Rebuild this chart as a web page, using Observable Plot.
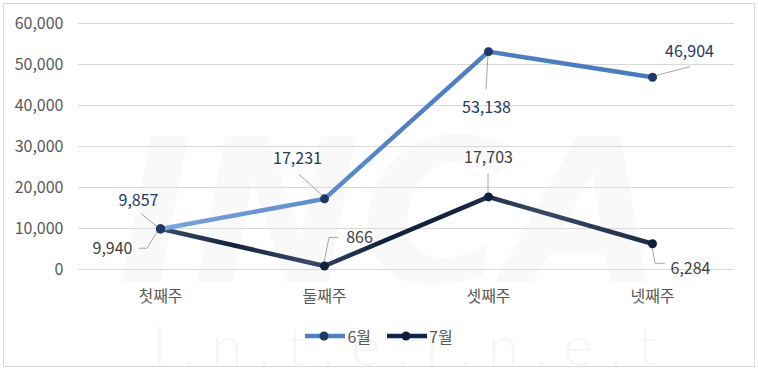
<!DOCTYPE html>
<html>
<head>
<meta charset="utf-8">
<script src="https://cdn.jsdelivr.net/npm/d3@7"></script>
<script src="https://cdn.jsdelivr.net/npm/@observablehq/plot@0.6"></script>
<style>
  body { margin: 0; background: #fff; font-family: "Noto Sans CJK KR", "Noto Sans", sans-serif; }
  #wrap { position: relative; width: 758px; height: 369px; overflow: hidden; background: #fff; }
  #frame { position: absolute; left: 3px; top: 3px; width: 752px; height: 364px; border: 1px solid #d9d9d9; box-sizing: border-box; }
  #wm { position: absolute; left: 0; top: 0; }
  #chart { position: absolute; left: 0; top: 0; }
  #legend { position: absolute; left: 0; top: 326px; width: 758px; height: 20px; display: flex; justify-content: center; align-items: center; gap: 16px; font-size: 16px; color: #595959; }
  .item { display: flex; align-items: center; }
  .item span { margin-left: 2px; line-height: 20px; }
</style>
</head>
<body>
<div id="wrap">
  <svg id="wm" width="758" height="369">
    <text x="118" y="282" font-family="DejaVu Sans" font-weight="bold" font-style="italic" font-size="200" fill="#f9f9f9" textLength="545" lengthAdjust="spacingAndGlyphs">INCA</text>
    <text x="152" y="366" font-family="Lato, DejaVu Sans" font-weight="300" font-size="56" fill="#f6f6f6" textLength="505" lengthAdjust="spacing">I.n.t.e.r.n.e.t</text>
  </svg>
  <div id="frame"></div>
  <div id="chart"></div>
  <div id="legend"></div>
</div>
<script>
// ---- data ----
const weeks = ["첫째주", "둘째주", "셋째주", "넷째주"];
const seriesNames = ["6월", "7월"];
const june = [9857, 17231, 53138, 46904];
const july = [9940, 866, 17703, 6284];
const yTicks = [0, 10000, 20000, 30000, 40000, 50000, 60000];

// ---- styling / layout (not data) ----
const lineColor = {"6월": "url(#g6)", "7월": "url(#g7)"};
const swatchColor = {"6월": "#4f80c2", "7월": "#14254a"};
const dotColor = {"6월": "#1f3864", "7월": "#0f1f3c"};
const labelColor = {"6월": "#1f3864", "7월": "#404040"};
// label offsets (px) from each point, and leader-line polyline offsets
const labelLayout = {
  "6월": [
    {dx: -22, dy: -28, leader: [[-3, -2], [-19, -15]]},
    {dx: -27, dy: -40, leader: [[-2, -3], [-25, -24]]},
    {dx: -2, dy: 56, leader: [[0, 3], [-2, 38]]},
    {dx: 37, dy: -25, leader: [[3, -1], [38, -10]]}
  ],
  "7월": [
    {dx: -48, dy: 20, leader: [[-2, 2], [-13, 20], [-21, 20]]},
    {dx: 35, dy: -28, leader: [[0, -3], [5, -28], [14, -28]]},
    {dx: 0, dy: -39, leader: [[0, -4], [0, -23]]},
    {dx: 38, dy: 25, leader: [[0, 3], [3, 20], [13, 20]]}
  ]
};

const table = [];
weeks.forEach((w, i) => table.push({week: w, series: "6월", value: june[i], i}));
weeks.forEach((w, i) => table.push({week: w, series: "7월", value: july[i], i}));

const fmt = d3.format(",");

function defsMark() {
  const defs = d3.create("svg:defs");
  const g6 = defs.append("linearGradient").attr("id", "g6").attr("x1", "0").attr("x2", "1").attr("y1", "0").attr("y2", "0");
  [[0, "#7ba5dc"], [0.3, "#5e8fd0"], [0.5, "#4f80c2"], [1, "#4a7bbe"]].forEach(([o, c]) =>
    g6.append("stop").attr("offset", o).attr("stop-color", c));
  const g7 = defs.append("linearGradient").attr("id", "g7").attr("x1", "0").attr("x2", "1").attr("y1", "0").attr("y2", "0");
  [[0, "#3e4d68"], [0.15, "#13233f"], [0.3, "#3a4a66"], [0.45, "#13233f"], [0.6, "#13233f"], [0.78, "#3a4a66"], [1, "#1c2c48"]].forEach(([o, c]) =>
    g7.append("stop").attr("offset", o).attr("stop-color", c));
  return defs.node();
}

function leaderMark(index, scales) {
  const g = d3.create("svg:g").attr("fill", "none").attr("stroke", "#a6a6a6").attr("stroke-width", 1);
  for (const d of table) {
    const px = scales.x(d.week), py = scales.y(d.value);
    const pts = labelLayout[d.series][d.i].leader.map(([a, b]) => [px + a, py + b]);
    g.append("path").attr("d", d3.line()(pts));
  }
  return g.node();
}

const labelMarks = table.map(d => {
  const L = labelLayout[d.series][d.i];
  return Plot.text([d], {
    x: "week", y: "value", text: d => fmt(d.value),
    dx: L.dx, dy: L.dy, fill: labelColor[d.series], fontSize: 16
  });
});

const plot = Plot.plot({
  width: 758,
  height: 316,
  marginLeft: 78,
  marginRight: 24,
  marginTop: 23,
  marginBottom: 47,
  style: {background: "transparent", fontFamily: '"Noto Sans CJK KR", "Noto Sans", sans-serif', fontSize: "16px", color: "#595959"},
  x: {type: "point", domain: weeks, padding: 0.5, label: null},
  y: {domain: [0, 60000], label: null},
  marks: [
    defsMark,
    Plot.gridY(yTicks, {stroke: "#d9d9d9", strokeOpacity: 1, strokeWidth: 1}),
    Plot.axisY(yTicks, {tickSize: 0, tickPadding: 15, tickFormat: fmt, fontSize: 16, fill: "#595959", label: null}),
    Plot.axisX(weeks, {tickSize: 0, tickPadding: 21, fontSize: 16, fill: "#595959", label: null}),
    leaderMark,
    Plot.line(table.filter(d => d.series === "7월"), {x: "week", y: "value", stroke: lineColor["7월"], strokeWidth: 4.5}),
    Plot.line(table.filter(d => d.series === "6월"), {x: "week", y: "value", stroke: lineColor["6월"], strokeWidth: 4.5}),
    Plot.dot(table.filter(d => d.series === "7월"), {x: "week", y: "value", r: 4.5, fill: dotColor["7월"]}),
    Plot.dot(table.filter(d => d.series === "6월"), {x: "week", y: "value", r: 4.5, fill: dotColor["6월"]}),
    ...labelMarks
  ]
});
document.getElementById("chart").appendChild(plot);

// legend
const legend = document.getElementById("legend");
seriesNames.forEach(s => {
  const item = document.createElement("div");
  item.className = "item";
  item.innerHTML = `<svg width="40" height="12"><line x1="0" y1="6" x2="40" y2="6" stroke="${swatchColor[s]}" stroke-width="4.5"/><circle cx="19" cy="6" r="4.5" fill="${dotColor[s]}"/></svg><span>${s}</span>`;
  legend.appendChild(item);
});
</script>
</body>
</html>
